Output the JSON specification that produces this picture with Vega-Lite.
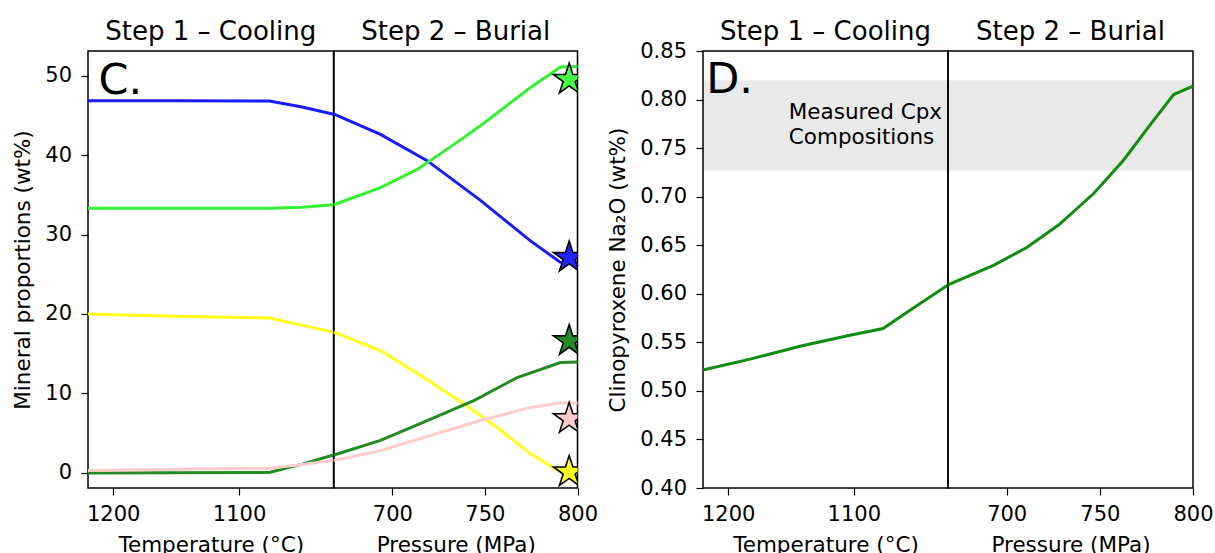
{
  "$schema": "https://vega.github.io/schema/vega-lite/v6.json",
  "background": "white",
  "padding": {"left": 12, "top": 17, "right": 0, "bottom": 0},
  "config": {
    "font": "DejaVu Sans",
    "view": {"stroke": "black", "strokeWidth": 1.5},
    "axis": {
      "labelFont": "DejaVu Sans", "labelFontSize": 21, "labelColor": "black",
      "titleFont": "DejaVu Sans", "titleFontSize": 21.5, "titleFontWeight": "normal", "titleColor": "black",
      "tickColor": "black", "tickSize": 7, "tickWidth": 1.2, "domain": false, "grid": false,
      "labelFlush": false, "labelOverlap": false
    },
    "axisX": {"labelPadding": 8, "titlePadding": 10},
    "axisY": {"labelPadding": 9.5, "titlePadding": 10},
    "title": {"font": "DejaVu Sans", "fontSize": 26, "fontWeight": "normal", "color": "black", "offset": 6, "frame": "group"}
  },
  "datasets": {
    "mineralsCooling": [
      {"mineral": "Plagioclase", "T": 1220, "wt": 46.85},
      {"mineral": "Plagioclase", "T": 1150, "wt": 46.85},
      {"mineral": "Plagioclase", "T": 1076, "wt": 46.8},
      {"mineral": "Plagioclase", "T": 1050, "wt": 46.05},
      {"mineral": "Plagioclase", "T": 1025, "wt": 45.15},
      {"mineral": "Clinopyroxene", "T": 1220, "wt": 33.3},
      {"mineral": "Clinopyroxene", "T": 1150, "wt": 33.3},
      {"mineral": "Clinopyroxene", "T": 1076, "wt": 33.3},
      {"mineral": "Clinopyroxene", "T": 1050, "wt": 33.45},
      {"mineral": "Clinopyroxene", "T": 1025, "wt": 33.75},
      {"mineral": "Olivine", "T": 1220, "wt": 20.0},
      {"mineral": "Olivine", "T": 1143, "wt": 19.7},
      {"mineral": "Olivine", "T": 1076, "wt": 19.5},
      {"mineral": "Olivine", "T": 1050, "wt": 18.6},
      {"mineral": "Olivine", "T": 1025, "wt": 17.7},
      {"mineral": "Amphibole", "T": 1220, "wt": 0.0},
      {"mineral": "Amphibole", "T": 1076, "wt": 0.05},
      {"mineral": "Amphibole", "T": 1050, "wt": 1.1},
      {"mineral": "Amphibole", "T": 1025, "wt": 2.25},
      {"mineral": "Garnet", "T": 1220, "wt": 0.3},
      {"mineral": "Garnet", "T": 1150, "wt": 0.45},
      {"mineral": "Garnet", "T": 1076, "wt": 0.6},
      {"mineral": "Garnet", "T": 1050, "wt": 1.05},
      {"mineral": "Garnet", "T": 1025, "wt": 1.55}
    ],
    "mineralsBurial": [
      {"mineral": "Plagioclase", "P": 668.5, "wt": 45.15},
      {"mineral": "Plagioclase", "P": 693.6, "wt": 42.6},
      {"mineral": "Plagioclase", "P": 718.8, "wt": 39.3},
      {"mineral": "Plagioclase", "P": 747.6, "wt": 34.3},
      {"mineral": "Plagioclase", "P": 774.6, "wt": 29.2},
      {"mineral": "Plagioclase", "P": 790.8, "wt": 26.5},
      {"mineral": "Plagioclase", "P": 800, "wt": 26.3},
      {"mineral": "Clinopyroxene", "P": 668.5, "wt": 33.75},
      {"mineral": "Clinopyroxene", "P": 693.6, "wt": 35.9},
      {"mineral": "Clinopyroxene", "P": 713.4, "wt": 38.2},
      {"mineral": "Clinopyroxene", "P": 729.6, "wt": 40.75},
      {"mineral": "Clinopyroxene", "P": 747.6, "wt": 43.7},
      {"mineral": "Clinopyroxene", "P": 774.6, "wt": 48.5},
      {"mineral": "Clinopyroxene", "P": 790.8, "wt": 51.1},
      {"mineral": "Clinopyroxene", "P": 800, "wt": 51.15},
      {"mineral": "Olivine", "P": 668.5, "wt": 17.7},
      {"mineral": "Olivine", "P": 693.6, "wt": 15.4},
      {"mineral": "Olivine", "P": 717, "wt": 12.0},
      {"mineral": "Olivine", "P": 738.6, "wt": 8.7},
      {"mineral": "Olivine", "P": 756.6, "wt": 5.7},
      {"mineral": "Olivine", "P": 774.6, "wt": 2.4},
      {"mineral": "Olivine", "P": 790.8, "wt": 0.1},
      {"mineral": "Olivine", "P": 800, "wt": 0.0},
      {"mineral": "Amphibole", "P": 668.5, "wt": 2.25},
      {"mineral": "Amphibole", "P": 693.6, "wt": 4.1},
      {"mineral": "Amphibole", "P": 717, "wt": 6.4},
      {"mineral": "Amphibole", "P": 744, "wt": 9.1},
      {"mineral": "Amphibole", "P": 767.4, "wt": 12.0},
      {"mineral": "Amphibole", "P": 790.8, "wt": 13.9},
      {"mineral": "Amphibole", "P": 800, "wt": 13.95},
      {"mineral": "Garnet", "P": 668.5, "wt": 1.55},
      {"mineral": "Garnet", "P": 693.6, "wt": 2.8},
      {"mineral": "Garnet", "P": 720.6, "wt": 4.7},
      {"mineral": "Garnet", "P": 747.6, "wt": 6.6},
      {"mineral": "Garnet", "P": 774.6, "wt": 8.25},
      {"mineral": "Garnet", "P": 790.8, "wt": 8.8},
      {"mineral": "Garnet", "P": 800, "wt": 8.8}
    ],
    "measured": [
      {"mineral": "Clinopyroxene", "P": 795.5, "wt": 49.5},
      {"mineral": "Plagioclase", "P": 795.5, "wt": 27.1},
      {"mineral": "Amphibole", "P": 795.5, "wt": 16.6},
      {"mineral": "Garnet", "P": 795.5, "wt": 6.8},
      {"mineral": "Olivine", "P": 795.5, "wt": 0.1}
    ],
    "cpxCooling": [
      {"T": 1220, "na2o": 0.5216},
      {"T": 1182.5, "na2o": 0.5327},
      {"T": 1142.8, "na2o": 0.5459},
      {"T": 1103, "na2o": 0.5573},
      {"T": 1076.7, "na2o": 0.5642},
      {"T": 1050.2, "na2o": 0.5873},
      {"T": 1025, "na2o": 0.6091}
    ],
    "cpxBurial": [
      {"P": 668.5, "na2o": 0.6091},
      {"P": 693.2, "na2o": 0.6295},
      {"P": 711.0, "na2o": 0.6479},
      {"P": 728.0, "na2o": 0.671},
      {"P": 746.7, "na2o": 0.7032},
      {"P": 762.8, "na2o": 0.7378},
      {"P": 777.1, "na2o": 0.7741},
      {"P": 789.6, "na2o": 0.8052},
      {"P": 800, "na2o": 0.8138}
    ],
    "band": [{"lo": 0.727, "hi": 0.82}],
    "labelC": [{"label": "C."}],
    "labelD": [{"label": "D."}],
    "note": [{"note": "Measured Cpx\nCompositions"}]
  },
  "spacing": 7,
  "hconcat": [
    {
      "spacing": 0,
      "bounds": "flush",
      "hconcat": [
        {
          "width": 245.5, "height": 437,
          "title": "Step 1 – Cooling",
          "layer": [
            {
              "data": {"name": "mineralsCooling"},
              "mark": {"type": "line", "strokeWidth": 3},
              "encoding": {
                "x": {"field": "T", "type": "quantitative", "scale": {"domain": [1220, 1025], "nice": false, "zero": false}, "axis": {"values": [1200, 1100], "format": "d", "title": "Temperature (°C)"}},
                "y": {"field": "wt", "type": "quantitative", "scale": {"domain": [-1.9, 53.1], "nice": false, "zero": false}, "axis": {"values": [0, 10, 20, 30, 40, 50], "format": "d", "title": "Mineral proportions (wt%)"}},
                "color": {"field": "mineral", "type": "nominal", "scale": {"domain": ["Plagioclase", "Clinopyroxene", "Olivine", "Amphibole", "Garnet"], "range": ["#1a1aff", "#33f033", "#ffff1a", "#228b22", "#ffcccc"]}, "legend": null}
              }
            },
            {
              "data": {"name": "labelC"},
              "mark": {"type": "text", "fontSize": 43, "align": "left", "baseline": "alphabetic", "color": "black"},
              "encoding": {"x": {"datum": 1211.7}, "y": {"datum": 47.7}, "text": {"field": "label"}}
            }
          ]
        },
        {
          "width": 243.5, "height": 437,
          "title": "Step 2 – Burial",
          "layer": [
            {
              "data": {"name": "mineralsBurial"},
              "mark": {"type": "line", "strokeWidth": 3},
              "encoding": {
                "x": {"field": "P", "type": "quantitative", "scale": {"domain": [668.5, 800], "nice": false, "zero": false}, "axis": {"values": [700, 750, 800], "format": "d", "title": "Pressure (MPa)"}},
                "y": {"field": "wt", "type": "quantitative", "scale": {"domain": [-1.9, 53.1], "nice": false, "zero": false}, "axis": null},
                "color": {"field": "mineral", "type": "nominal", "scale": {"domain": ["Plagioclase", "Clinopyroxene", "Olivine", "Amphibole", "Garnet"], "range": ["#1a1aff", "#33f033", "#ffff1a", "#228b22", "#ffcccc"]}, "legend": null}
              }
            },
            {
              "data": {"name": "measured"},
              "mark": {"type": "point", "shape": "M0,-1L0.2245,-0.309L0.951,-0.309L0.3633,0.118L0.588,0.809L0,0.382L-0.588,0.809L-0.3633,0.118L-0.951,-0.309L-0.2245,-0.309Z", "filled": true, "size": 1090, "stroke": "black", "strokeWidth": 1.6, "opacity": 1, "clip": true},
              "encoding": {
                "x": {"field": "P", "type": "quantitative"},
                "y": {"field": "wt", "type": "quantitative"},
                "fill": {"field": "mineral", "type": "nominal", "scale": {"domain": ["Plagioclase", "Clinopyroxene", "Olivine", "Amphibole", "Garnet"], "range": ["#2222ff", "#44ff44", "#ffff22", "#228b22", "#ffcccc"]}, "legend": null}
              }
            }
          ]
        }
      ]
    },
    {
      "spacing": 0,
      "bounds": "flush",
      "hconcat": [
        {
          "width": 245, "height": 437,
          "title": {"text": "Step 1 – Cooling", "offset": -4.5},
          "layer": [
            {
              "data": {"name": "band"},
              "mark": {"type": "rect", "fill": "black", "fillOpacity": 0.087},
              "encoding": {
                "y": {"field": "lo", "type": "quantitative", "scale": {"domain": [0.4, 0.85], "nice": false, "zero": false}},
                "y2": {"field": "hi"}
              }
            },
            {
              "data": {"name": "cpxCooling"},
              "mark": {"type": "line", "strokeWidth": 3, "color": "#108c10"},
              "encoding": {
                "x": {"field": "T", "type": "quantitative", "scale": {"domain": [1220, 1025], "nice": false, "zero": false}, "axis": {"values": [1200, 1100], "format": "d", "title": "Temperature (°C)"}},
                "y": {"field": "na2o", "type": "quantitative", "axis": {"values": [0.4, 0.45, 0.5, 0.55, 0.6, 0.65, 0.7, 0.75, 0.8, 0.85], "format": ".2f", "title": "Clinopyroxene Na₂O (wt%)"}}
              }
            },
            {
              "data": {"name": "labelD"},
              "mark": {"type": "text", "fontSize": 43, "align": "left", "baseline": "alphabetic", "color": "black"},
              "encoding": {"x": {"datum": 1217.5}, "y": {"datum": 0.8069}, "text": {"field": "label"}}
            },
            {
              "data": {"name": "note"},
              "mark": {"type": "text", "fontSize": 21.5, "align": "left", "baseline": "top", "color": "black", "lineBreak": "\n", "lineHeight": 25},
              "encoding": {"x": {"datum": 1151.7}, "y": {"datum": 0.7972}, "text": {"field": "note"}}
            }
          ]
        },
        {
          "width": 245, "height": 437,
          "title": "Step 2 – Burial",
          "layer": [
            {
              "data": {"name": "band"},
              "mark": {"type": "rect", "fill": "black", "fillOpacity": 0.087},
              "encoding": {
                "y": {"field": "lo", "type": "quantitative", "scale": {"domain": [0.4, 0.85], "nice": false, "zero": false}, "axis": null},
                "y2": {"field": "hi"}
              }
            },
            {
              "data": {"name": "cpxBurial"},
              "mark": {"type": "line", "strokeWidth": 3, "color": "#108c10"},
              "encoding": {
                "x": {"field": "P", "type": "quantitative", "scale": {"domain": [668.5, 800], "nice": false, "zero": false}, "axis": {"values": [700, 750, 800], "format": "d", "title": "Pressure (MPa)"}},
                "y": {"field": "na2o", "type": "quantitative"}
              }
            }
          ]
        }
      ]
    }
  ]
}
